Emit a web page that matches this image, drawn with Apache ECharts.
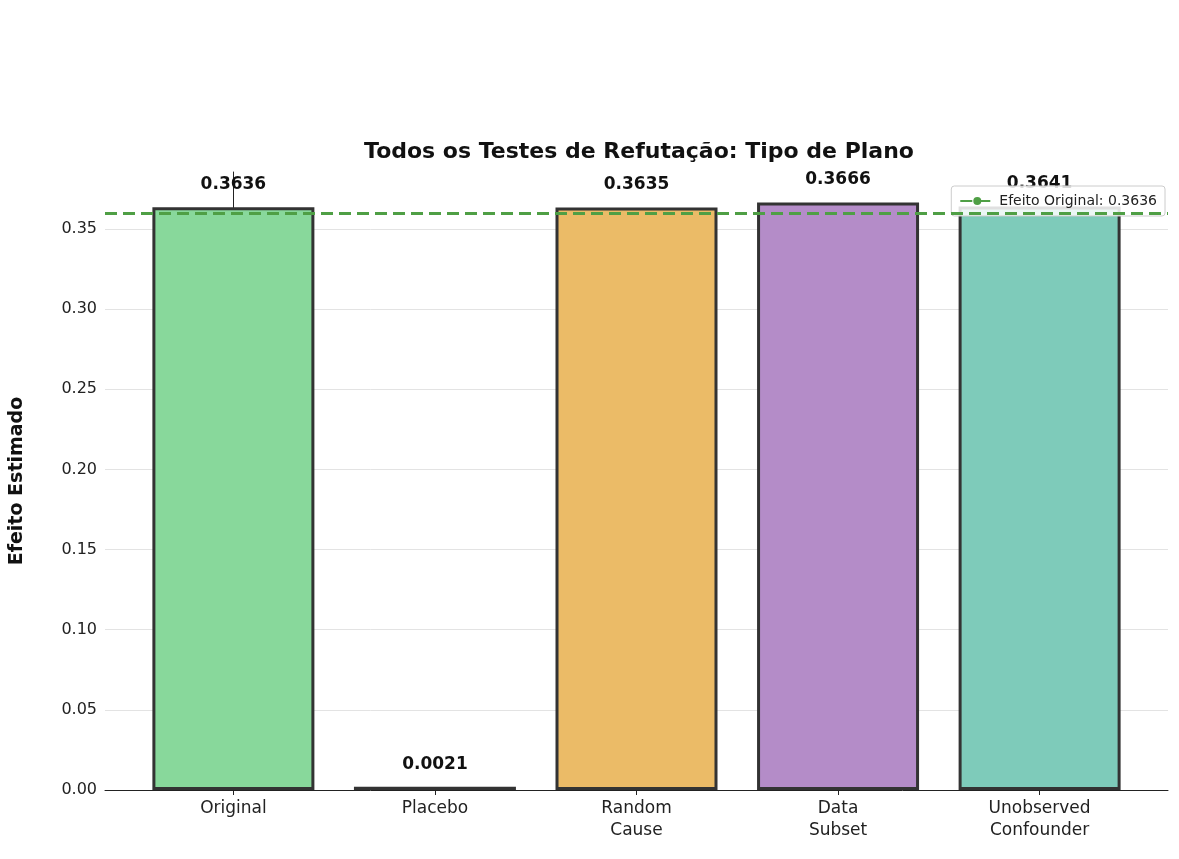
<!DOCTYPE html>
<html>
<head>
<meta charset="utf-8">
<script src="https://cdn.jsdelivr.net/npm/echarts@6/dist/echarts.min.js"></script>
</head>
<body style="margin:0;background:#fff">
<div id="chart" style="width:1179px;height:859px"></div>
<script>
var categories = ['Original', 'Placebo', 'Random\nCause', 'Data\nSubset', 'Unobserved\nConfounder'];
var values = [0.3636, 0.0021, 0.3635, 0.3666, 0.3641];
var colors = ['#88d89b', '#8b5a3c', '#ebbb67', '#b48cc8', '#7ecbba'];
var originalEffect = 0.3636;
var yTicks = [0, 0.05, 0.10, 0.15, 0.20, 0.25, 0.30, 0.35];

var chart = echarts.init(document.getElementById('chart'));
var option = {
    animation: false,
    textStyle: {fontFamily: 'DejaVu Sans'},
    title: {
        text: 'Todos os Testes de Refutação: Tipo de Plano',
        left: 634, top: 136, textAlign: 'center',
        textStyle: {fontSize: 22, fontWeight: 'bold', color: '#111'}
    },
    legend: {
        right: 14, top: 186,
        data: ['Efeito Original: 0.3636'],
        backgroundColor: 'rgba(255,255,255,0.85)',
        borderColor: '#ccc', borderWidth: 1, borderRadius: 3,
        padding: [8, 8], itemWidth: 34, itemHeight: 10,
        textStyle: {fontSize: 14, color: '#222'}
    },
    grid: {left: 100, right: 11, top: 172, bottom: 69},
    xAxis: {
        type: 'value', min: -0.637, max: 4.637,
        splitLine: {show: false},
        axisLine: {show: true, lineStyle: {color: '#222'}},
        axisTick: {show: true, customValues: [0, 1, 2, 3, 4], lineStyle: {color: '#222'}},
        axisLabel: {
            customValues: [0, 1, 2, 3, 4], fontSize: 17, color: '#222', lineHeight: 22,
            formatter: function (v) { return categories[Math.round(v)]; }
        }
    },
    yAxis: {
        type: 'value', min: 0, max: 0.3856,
        name: 'Efeito Estimado', nameLocation: 'middle', nameGap: 78,
        nameTextStyle: {fontSize: 19, fontWeight: 'bold', color: '#111'},
        axisLine: {show: true, lineStyle: {color: '#222'}},
        axisTick: {show: true, customValues: yTicks, lineStyle: {color: '#222'}},
        axisLabel: {customValues: yTicks, fontSize: 16, color: '#222',
            formatter: function (v) { return v.toFixed(2); }},
        splitLine: {show: true, lineStyle: {color: '#e3e3e3'}}
    },
    series: [{
        type: 'bar',
        barWidth: 162,
        data: values.map(function (v, i) {
            return {value: [i, v], itemStyle: {color: colors[i]}};
        }),
        itemStyle: {borderColor: '#333', borderWidth: 3},
        label: {
            show: true, position: 'top', distance: 14,
            fontSize: 17, fontWeight: 'bold', color: '#111',
            formatter: function (p) { return p.value[1].toFixed(4); }
        },
        z: 2
    }, {
        name: 'Efeito Original: 0.3636',
        type: 'line', data: [],
        symbol: 'none',
        lineStyle: {color: '#4f9f45', width: 3, type: [12, 6]},
        itemStyle: {color: '#4f9f45'},
        markLine: {
            silent: true, symbol: 'none', label: {show: false},
            lineStyle: {color: '#4f9f45', width: 3, type: [12, 6]},
            data: [{yAxis: originalEffect}]
        },
        z: 3
    }]
};
chart.setOption(option);
</script>
</body>
</html>
